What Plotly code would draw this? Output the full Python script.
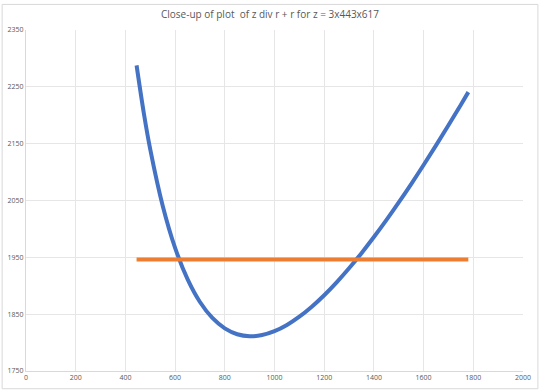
import plotly.graph_objects as go

r_vals = [445, 475, 500, 550, 600, 650, 700, 750, 800, 850, 900, 950, 1000, 1050, 1100,
          1150, 1200, 1250, 1300, 1350, 1400, 1450, 1500, 1550, 1600, 1650, 1700, 1750, 1780]
curve_vals = [2287.7, 2201.3, 2140.0, 2040.9, 1966.7, 1911.6, 1871.4, 1843.3, 1825.0, 1814.7,
              1811.1, 1813.2, 1820.0, 1831.0, 1845.5, 1863.1, 1883.3, 1906.0, 1930.8, 1957.4,
              1985.7, 2015.5, 2046.7, 2079.0, 2112.5, 2147.0, 2182.4, 2218.6, 2240.7]
line_x = [445, 1780]
line_vals = [1946, 1946]

fig = go.Figure()
fig.add_trace(go.Scatter(x=r_vals, y=curve_vals, mode="lines",
                         line=dict(color="#4472C4", width=4, shape="spline"), showlegend=False))
fig.add_trace(go.Scatter(x=line_x, y=line_vals, mode="lines",
                         line=dict(color="#ED7D31", width=4), showlegend=False))

fig.update_layout(
    width=540, height=392,
    margin=dict(l=26, r=17, t=30, b=21, autoexpand=False),
    paper_bgcolor="white", plot_bgcolor="white",
    title=dict(text="Close-up of plot  of z div r + r for z = 3x443x617", x=0.5, xanchor="center",
               y=0.962, yanchor="middle", font=dict(family="Open Sans", size=10, color="#595959")),
    font=dict(family="Open Sans", size=7, color="#595959"),
    xaxis=dict(range=[0, 2000], tick0=0, dtick=200, showgrid=True, gridcolor="#E6E6E6",
               gridwidth=1, zeroline=False, showline=True, linecolor="#D9D9D9", ticks="",
               automargin=False),
    yaxis=dict(range=[1750, 2350], tick0=1750, dtick=100, showgrid=True, gridcolor="#E6E6E6",
               gridwidth=1, zeroline=False, showline=True, linecolor="#D9D9D9", ticks="",
               automargin=False),
    shapes=[dict(type="rect", xref="paper", yref="paper", x0=-0.048, x1=1.03, y0=-0.052, y1=1.075,
                 line=dict(color="#D9D9D9", width=1))],
)
fig.write_html("out.html", config={"displayModeBar": False, "staticPlot": True},
               post_script="document.body.style.margin='0';document.body.style.overflow='hidden';")
